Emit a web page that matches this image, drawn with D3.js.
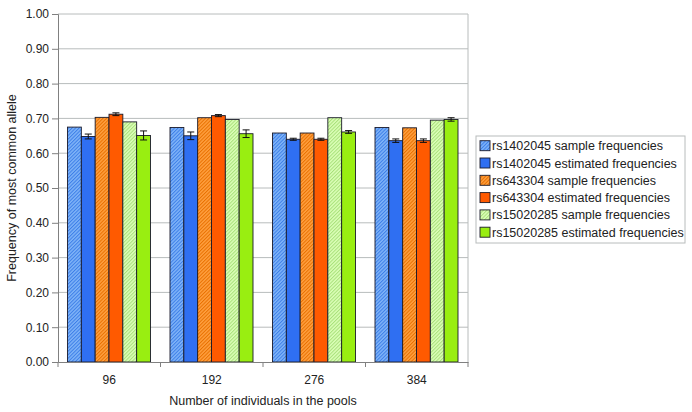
<!DOCTYPE html>
<html><head><meta charset="utf-8">
<script src="https://cdn.jsdelivr.net/npm/d3@7"></script>
<style>body{margin:0;background:#fff;}svg{display:block;font-family:"Liberation Sans",Arial,sans-serif;}</style>
</head><body>
<svg id="c" width="692" height="412"></svg>
<script>
const categories = ["96","192","276","384"];
const seriesNames = ["rs1402045 sample frequencies","rs1402045 estimated frequencies","rs643304 sample frequencies","rs643304 estimated frequencies","rs15020285 sample frequencies","rs15020285 estimated frequencies"];
const rs1402045Sample = [0.675,0.674,0.658,0.674];
const rs1402045Est    = [0.648,0.650,0.640,0.636];
const rs1402045EstErr = [0.007,0.011,0.003,0.005];
const rs643304Sample  = [0.703,0.702,0.658,0.673];
const rs643304Est     = [0.712,0.708,0.640,0.636];
const rs643304EstErr  = [0.004,0.003,0.003,0.005];
const rs15020285Sample= [0.690,0.697,0.702,0.695];
const rs15020285Est   = [0.651,0.656,0.661,0.697];
const rs15020285EstErr= [0.013,0.011,0.004,0.005];
const yTicks = [0,0.1,0.2,0.3,0.4,0.5,0.6,0.7,0.8,0.9,1.0];

const seriesValues = [rs1402045Sample,rs1402045Est,rs643304Sample,rs643304Est,rs15020285Sample,rs15020285Est];
const seriesErr = [null,rs1402045EstErr,null,rs643304EstErr,null,rs15020285EstErr];
const fills = ["url(#hBlue)","#2f6ff2","url(#hOrange)","#ff5a00","url(#hGreen)","#99ee11"];

const svg = d3.select("#c");
const L=58,R=468,T=14,B=362;
const defs = svg.append("defs");
function hatch(id,base,stripe){
  const p=defs.append("pattern").attr("id",id).attr("patternUnits","userSpaceOnUse")
    .attr("width",2.5).attr("height",2.5).attr("patternTransform","rotate(45)");
  p.append("rect").attr("width",2.5).attr("height",2.5).attr("fill",base);
  p.append("rect").attr("width",1).attr("height",2.5).attr("fill",stripe);
}
hatch("hBlue","#80b4f8","#3c7ee8");
hatch("hOrange","#ffa040","#e87000");
hatch("hGreen","#dcffb8","#a8e07a");

const x0 = d3.scaleBand().domain(categories).range([L,R]).paddingInner(0).paddingOuter(0);
const x1 = d3.scaleBand().domain(d3.range(6)).range([9.5, x0.bandwidth()-10]).padding(0);
const y = d3.scaleLinear().domain([0,1]).range([B,T]);

// gridlines
svg.append("g").selectAll("line").data(yTicks.slice(1)).join("line")
  .attr("x1",L).attr("x2",R).attr("y1",d=>y(d)).attr("y2",d=>y(d))
  .attr("stroke","#b8bcbc").attr("stroke-width",1);
svg.append("line").attr("x1",R).attr("x2",R).attr("y1",T).attr("y2",B).attr("stroke","#b8bcbc");

// bars
const groups = svg.append("g").selectAll("g").data(categories).join("g")
  .attr("transform",d=>`translate(${x0(d)},0)`);
groups.each(function(cat,ci){
  const g=d3.select(this);
  seriesValues.forEach((vals,si)=>{
    g.append("rect").attr("x",x1(si)).attr("width",x1.bandwidth())
      .attr("y",y(vals[ci])).attr("height",B-y(vals[ci]))
      .attr("fill",fills[si]).attr("stroke","#1a1a2a").attr("stroke-width",0.9);
    if(seriesErr[si]){
      const cx=x1(si)+x1.bandwidth()/2, e=seriesErr[si][ci];
      const ea=g.append("g").attr("stroke","#111").attr("stroke-width",1);
      ea.append("line").attr("x1",cx).attr("x2",cx).attr("y1",y(vals[ci]+e)).attr("y2",y(vals[ci]-e));
      ea.append("line").attr("x1",cx-3.5).attr("x2",cx+3.5).attr("y1",y(vals[ci]+e)).attr("y2",y(vals[ci]+e));
      ea.append("line").attr("x1",cx-3.5).attr("x2",cx+3.5).attr("y1",y(vals[ci]-e)).attr("y2",y(vals[ci]-e));
    }
  });
});

// y axis
const yAxis = svg.append("g").attr("transform",`translate(${L},0)`)
  .call(d3.axisLeft(y).tickValues(yTicks).tickFormat(d3.format(".2f")).tickSize(6).tickPadding(3));
yAxis.select(".domain").attr("stroke","#808080");
yAxis.selectAll(".tick line").attr("stroke","#808080");
yAxis.selectAll("text").attr("font-size",12).attr("fill","#222").attr("font-family","Liberation Sans, Arial, sans-serif");

// x axis
const xAxis = svg.append("g").attr("transform",`translate(0,${B})`)
  .call(d3.axisBottom(x0).tickSize(0).tickPadding(13));
xAxis.select(".domain").attr("stroke","#808080");
xAxis.selectAll("text").attr("font-size",12).attr("fill","#222").attr("font-family","Liberation Sans, Arial, sans-serif");
svg.append("g").selectAll("line").data(d3.range(categories.length+1)).join("line")
  .attr("x1",i=>L+i*x0.bandwidth()).attr("x2",i=>L+i*x0.bandwidth())
  .attr("y1",B).attr("y2",B+5).attr("stroke","#808080");

// axis titles
svg.append("text").attr("x",(L+R)/2).attr("y",405).attr("text-anchor","middle")
  .attr("font-size",12.5).attr("fill","#222").text("Number of individuals in the pools");
svg.append("text").attr("transform",`translate(16,${(T+B)/2}) rotate(-90)`).attr("text-anchor","middle")
  .attr("font-size",12.5).attr("fill","#222").text("Frequency of most common allele");

// legend
const lg = svg.append("g");
lg.append("rect").attr("x",476).attr("y",136).attr("width",209).attr("height",107)
  .attr("fill","#fff").attr("stroke","#b8bcbc");
seriesNames.forEach((n,i)=>{
  const yy=145.7+i*17.3;
  lg.append("rect").attr("x",480).attr("y",yy-5).attr("width",10).attr("height",10)
    .attr("fill",fills[i]).attr("stroke","#1a1a2a").attr("stroke-width",0.9);
  lg.append("text").attr("x",492).attr("y",yy+4.5).attr("font-size",12.5).attr("fill","#222").text(n);
});
</script>
</body></html>
